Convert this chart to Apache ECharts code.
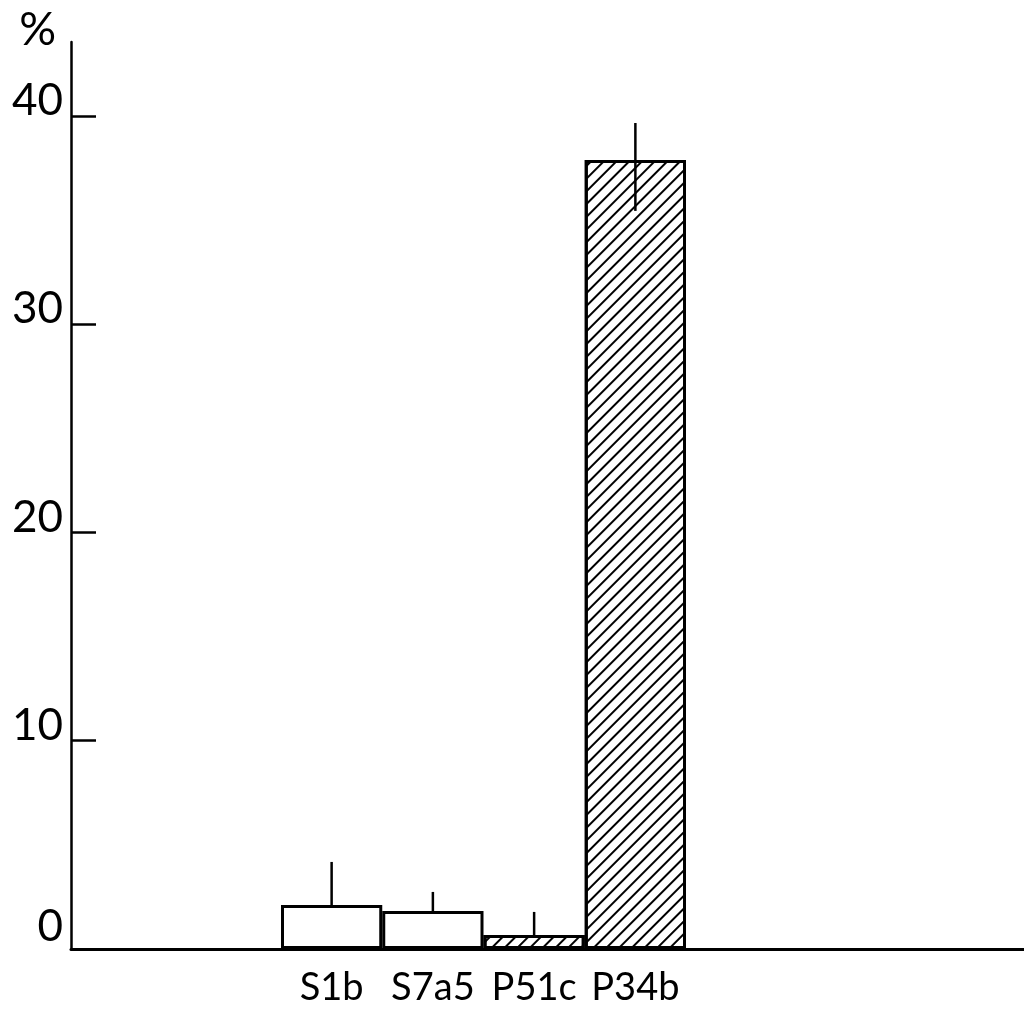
<!DOCTYPE html>
<html>
<head>
<meta charset="utf-8">
<script src="https://cdn.jsdelivr.net/npm/echarts@6/dist/echarts.min.js"></script>
<style>html,body{margin:0;padding:0;background:#fff}#c{width:1024px;height:1011px}</style>
</head>
<body>
<div id="c"></div>
<script>
const categories = ['S1b', 'S7a5', 'P51c', 'P34b'];
const values = [2.11, 1.82, 0.67, 37.89];
const errHigh = [4.18, 2.74, 1.78, 39.66];
const errLow = [2.11, 1.82, 0.67, 35.44];
const yTicks = [0, 10, 20, 30, 40];
const yMax = 43.55;

const FONT = 'Lato';
const hatch = {
  symbol: 'rect', symbolSize: 1, color: '#000',
  dashArrayX: [1, 0], dashArrayY: [1.6, 6.2], rotation: -Math.PI / 4
};

const barData = values.map((v, i) => ({
  value: v,
  itemStyle: categories[i].charAt(0) === 'P' ? { decal: hatch } : {}
}));
const errData = categories.map((c, i) => [i, errLow[i], errHigh[i]]);

const chart = echarts.init(document.getElementById('c'), null, { renderer: 'canvas' });
chart.setOption({
  animation: false,
  backgroundColor: '#fff',
  grid: [
    { left: 71, right: 0, top: 42, bottom: 62 },
    { left: 281, width: 405, top: 42, bottom: 62 }
  ],
  xAxis: [
    { type: 'value', gridIndex: 0, min: 0, max: 1, axisLine: { show: true, lineStyle: { color: '#000', width: 3 } },
      axisTick: { show: false }, axisLabel: { show: false }, splitLine: { show: false } },
    { type: 'category', gridIndex: 1, data: categories, axisLine: { show: false }, axisTick: { show: false },
      axisLabel: { fontFamily: FONT, fontSize: 38, color: '#000', margin: 20, interval: 0, hideOverlap: false } }
  ],
  yAxis: [
    { type: 'value', gridIndex: 0, min: 0, max: yMax, interval: 10,
      name: '%', nameLocation: 'end', nameGap: 12,
      nameTextStyle: { fontFamily: FONT, fontSize: 46, color: '#000', align: 'right', verticalAlign: 'middle', padding: [0, 15, 0, 0] },
      axisLine: { show: true, lineStyle: { color: '#000', width: 2.5 } },
      axisTick: { show: true, inside: true, length: 25, lineStyle: { color: '#000', width: 2.5 }, customValues: yTicks },
      axisLabel: { fontFamily: FONT, fontSize: 44, color: '#000', margin: 8, verticalAlign: 'bottom', customValues: yTicks,
        formatter: function (v) { return v === 0 ? '{z|' + v + '}' : '{a|' + v + '}'; },
        rich: {
          a: { fontFamily: FONT, fontSize: 44, color: '#000', lineHeight: 30 },
          z: { fontFamily: FONT, fontSize: 44, color: '#000', lineHeight: 44 }
        } },
      splitLine: { show: false } },
    { type: 'value', gridIndex: 1, min: 0, max: yMax, show: false }
  ],
  series: [
    { type: 'bar', xAxisIndex: 1, yAxisIndex: 1, data: barData, barWidth: '100%',
      itemStyle: { color: '#fff', borderColor: '#000', borderWidth: 3 }, z: 2 },
    { type: 'custom', xAxisIndex: 1, yAxisIndex: 1, data: errData, z: 5,
      renderItem: function (params, api) {
        const hi = api.coord([api.value(0), api.value(2)]);
        const lo = api.coord([api.value(0), api.value(1)]);
        return { type: 'line', shape: { x1: hi[0], y1: hi[1], x2: lo[0], y2: lo[1] },
          style: { stroke: '#000', lineWidth: 2.5 } };
      } }
  ]
});
</script>
</body>
</html>
